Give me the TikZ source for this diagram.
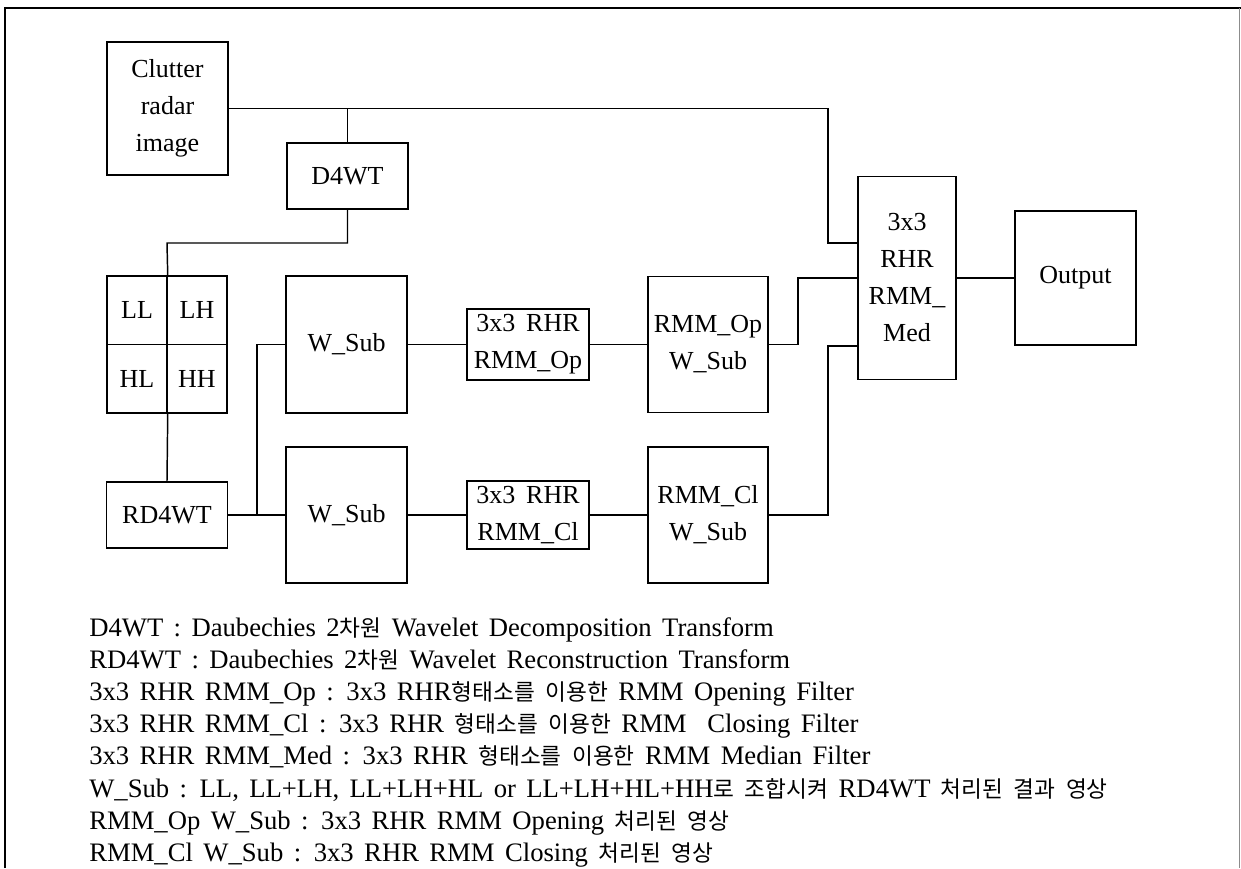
\documentclass[tikz,border=0pt]{standalone}
\usepackage{fontspec}
\setmainfont{Liberation Serif}
\newfontfamily\kr{Noto Sans CJK KR}[Scale=0.85]
\usetikzlibrary{calc}
\newcommand\boxfont{\fontsize{19.5pt}{27.75pt}\selectfont}
\newcommand\legfont{\fontsize{20pt}{24pt}\selectfont\spaceskip=7.8pt plus 1pt\relax}
\tikzset{
  blk/.style 2 args={draw, line width=1.1pt, minimum width=#1*0.75pt, minimum height=#2*0.75pt, inner sep=0pt, align=center, font=\boxfont},
  wire/.style={line width=1.1pt},
  legend/.style={anchor=base west, inner sep=0pt, font=\legfont}
}
\begin{document}
\begin{tikzpicture}[x=0.75pt,y=-0.75pt]
\useasboundingbox (0,0) rectangle (1241,868);
\fill[white] (0,0) rectangle (1241,868);
% frame
\draw[line width=1.6pt] (5,868) -- (5,8) -- (1241,8);
\draw[line width=0.6pt, black!45] (1239,8) -- (1239,868);
% blocks
\node[blk={121}{133}] (clutter) at (167.5,108.5) {Clutter\\radar\\image};
\node[blk={121}{66}] (d4wt) at (347.5,176) {D4WT};
\node[blk={60}{68.5}] (ll) at (137,310.25) {LL};
\node[blk={60}{68.5}] (lh) at (197,310.25) {LH};
\node[blk={60}{68.5}] (hl) at (137,378.75) {HL};
\node[blk={60}{68.5}] (hh) at (197,378.75) {HH};
\node[blk={121}{66}] (rd4wt) at (167,515) {RD4WT};
\node[blk={121}{137}] (wsub1) at (346.5,344.5) {W\_Sub};
\node[blk={121}{136}] (wsub2) at (346.5,515) {W\_Sub};
\node[blk={122}{71}] (op) at (528,344.5) {3x3 \,RHR\\RMM\_Op};
\node[blk={122}{68}] (cl) at (528,515) {3x3 \,RHR\\RMM\_Cl};
\node[blk={120}{136}] (opw) at (708,344.5) {RMM\_Op\\W\_Sub};
\node[blk={120}{136}] (clw) at (708,515) {RMM\_Cl\\W\_Sub};
\node[blk={98}{203}] (med) at (907,278) {3x3\\RHR\\RMM\_\\Med};
\node[blk={121}{134}] (out) at (1075.5,278) {Output};
% bend points
\coordinate (b1) at (828,243);
\coordinate (b2) at (167,243);
\coordinate (j) at (257,515);
\coordinate (b3) at (798,278);
\coordinate (b4) at (828,346);
% connectors
\draw[wire] (clutter.east) -| (b1) -- (b1 -| med.west);
\draw[wire] (clutter.east -| d4wt.north) -- (d4wt.north);
\draw[wire] (d4wt.south) |- (b2) -- (ll.north east);
\draw[wire] (hl.south east) -- (rd4wt.north);
\draw[wire] (rd4wt.east) -- (wsub2.west);
\draw[wire] (j) |- (wsub1.west);
\draw[wire] (wsub1) -- (op);
\draw[wire] (op) -- (opw);
\draw[wire] (wsub2) -- (cl);
\draw[wire] (cl) -- (clw);
\draw[wire] (opw.east) -| (b3) -- (med.west);
\draw[wire] (clw.east) -| (b4) -- (b4 -| med.west);
\draw[wire] (med) -- (out);
% legend
\node[legend] (t1) at (89,636) {D4WT : Daubechies 2{\kr 차원} Wavelet Decomposition Transform};
\node[legend] (t2) at (89,668.2) {RD4WT : Daubechies 2{\kr 차원} Wavelet Reconstruction Transform};
\node[legend] (t3) at (89,700.4) {3x3 RHR RMM\_Op : 3x3 RHR{\kr 형태소를} {\kr 이용한} RMM Opening Filter};
\node[legend] (t4) at (89,732.6) {3x3 RHR RMM\_Cl : 3x3 RHR {\kr 형태소를} {\kr 이용한} RMM \ Closing Filter};
\node[legend] (t5) at (89,764.8) {3x3 RHR RMM\_Med : 3x3 RHR {\kr 형태소를} {\kr 이용한} RMM Median Filter};
\node[legend] (t6) at (89,797) {W\_Sub : LL, LL+LH, LL+LH+HL or LL+LH+HL+HH{\kr 로} {\kr 조합시켜} RD4WT {\kr 처리된} {\kr 결과} {\kr 영상}};
\node[legend] (t7) at (89,829.2) {RMM\_Op W\_Sub : 3x3 RHR RMM Opening {\kr 처리된} {\kr 영상}};
\node[legend] (t8) at (89,861.4) {RMM\_Cl W\_Sub : 3x3 RHR RMM Closing {\kr 처리된} {\kr 영상}};
\end{tikzpicture}
\end{document}
